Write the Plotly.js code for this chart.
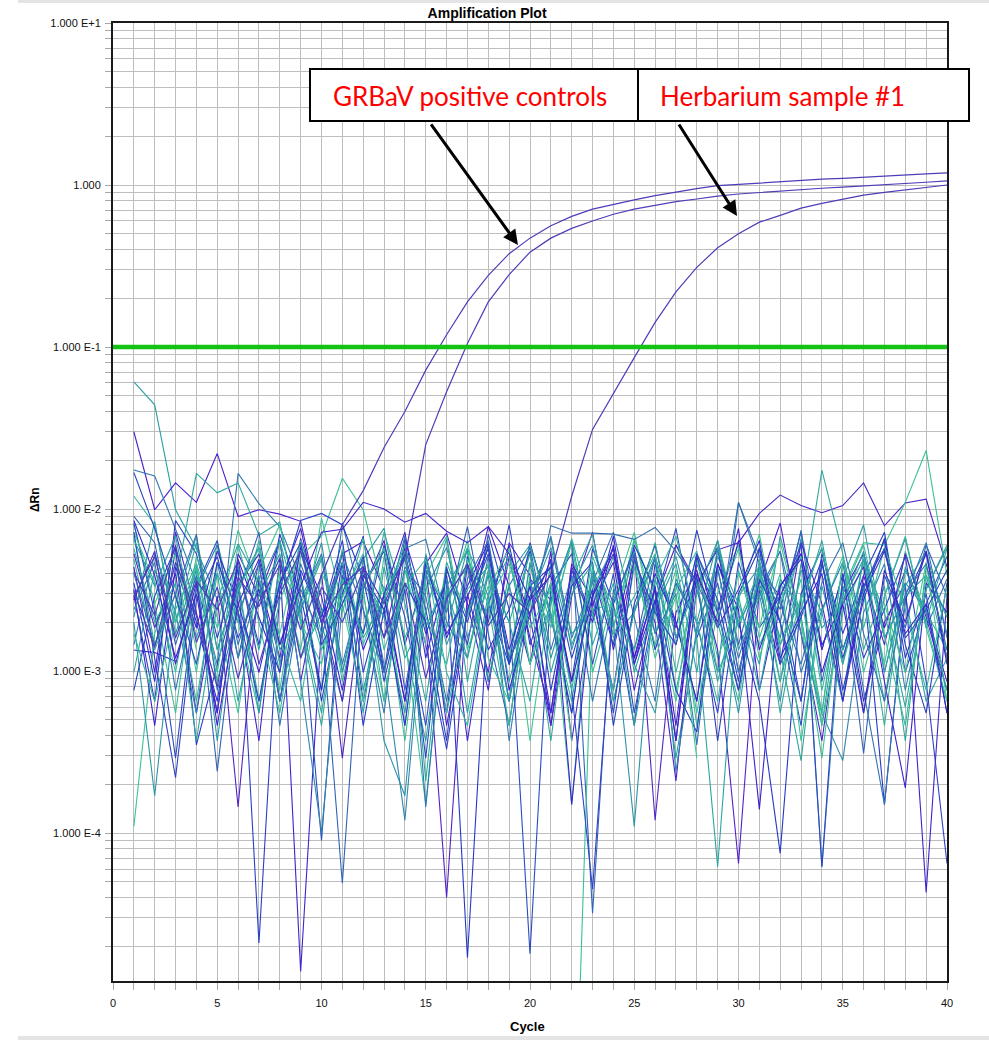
<!DOCTYPE html>
<html>
<head>
<meta charset="utf-8">
<script src="https://cdn.plot.ly/plotly-3.0.1.min.js"></script>
<style>html,body{margin:0;padding:0;background:#fff;}#chart{width:989px;height:1040px;}</style>
</head>
<body>
<div id="chart"></div>
<script>
// ---- data ----
const cycles = [1,2,3,4,5,6,7,8,9,10,11,12,13,14,15,16,17,18,19,20,21,22,23,24,25,26,27,28,29,30,31,32,33,34,35,36,37,38,39,40];
const thresholdValue = 0.1;
const thresholdCycles = [0, 40];

// amplification curves (ΔRn per cycle)
const grbavPos1 = [4.1e-3,2.2e-3,6.0e-3,1.5e-3,3.3e-3,0.9e-3,2.7e-3,4.5e-3,1.8e-3,3.9e-3, 8.0e-3,0.013,0.024,0.040,0.072,0.119,0.19,0.277,0.377,0.47, 0.56,0.64,0.71,0.76,0.81,0.86,0.905,0.95,0.99,1.01, 1.03,1.05,1.07,1.087,1.10,1.12,1.14,1.15,1.17,1.19];
const grbavPos2 = [2.9e-3,5.1e-3,1.6e-3,3.6e-3,2.4e-3,4.8e-3,1.1e-3,3.0e-3,5.5e-3,2.0e-3, 3.4e-3,4.4e-3,2.6e-3,5.0e-3,0.025,0.053,0.105,0.19,0.28,0.385, 0.47,0.54,0.60,0.66,0.71,0.75,0.79,0.82,0.855,0.88, 0.90,0.917,0.94,0.955,0.97,0.985,1.0,1.02,1.04,1.06];
const herbarium1 = [3.1e-3,1.4e-3,4.7e-3,2.2e-3,0.8e-3,3.8e-3,2.5e-3,5.0e-3,1.2e-3,3.3e-3, 2.0e-3,4.2e-3,1.6e-3,3.5e-3,0.9e-3,2.8e-3,4.6e-3,1.9e-3,3.0e-3,2.3e-3, 0.004,0.012,0.031,0.052,0.086,0.142,0.219,0.31,0.41,0.50, 0.59,0.65,0.72,0.77,0.82,0.867,0.90,0.93,0.965,1.0];

// background (non-amplifying) wells
const n01 = [61e-3,44e-3,9.9e-3,5.7e-3,2.75e-3,6.1e-3,3.5e-3,0.98e-3,6.0e-3,2.0e-3, 0.65e-3,4.9e-3,7.6e-3,1.45e-3,0.37e-3,3.35e-3,5.5e-3,0.86e-3,4.0e-3,6.0e-3, 2.3e-3,0.55e-3,4.4e-3,1.85e-3,6.4e-3,3.0e-3,0.29e-3,1.7e-3,5.1e-3,2.6e-3, 1.1e-3,6.8e-3,2.15e-3,0.46e-3,3.7e-3,8.0e-3,1.6e-3,2.9e-3,0.65e-3,1.2e-3];
const n02 = [30e-3,9.9e-3,14.5e-3,11e-3,22e-3,9.0e-3,9.9e-3,9.3e-3,8.4e-3,2.15e-3, 5.3e-3,6.3e-3,3.2e-3,0.65e-3,4.6e-3,7.1e-3,2.6e-3,0.76e-3,6.2e-3,3.9e-3, 0.46e-3,2.9e-3,7.2e-3,1.35e-3,4.9e-3,2.0e-3,0.21e-3,3.35e-3,5.8e-3,0.98e-3, 3.5e-3,8.2e-3,1.7e-3,0.37e-3,3.0e-3,5.3e-3,1.85e-3,4.2e-3,2.3e-3,0.86e-3];
const n03 = [17.4e-3,16e-3,7.5e-3,3.5e-3,1.1e-3,16.6e-3,10.8e-3,7.8e-3,3.7e-3,0.76e-3, 8.2e-3,2.4e-3,0.55e-3,5.7e-3,6.5e-3,2.0e-3,1.2e-3,5.1e-3,0.37e-3,2.75e-3, 6.8e-3,1.6e-3,3.5e-3,7.2e-3,2.15e-3,0.65e-3,6.0e-3,3.2e-3,0.98e-3,11e-3, 4.6e-3,2.0e-3,7.4e-3,1.35e-3,4.0e-3,0.55e-3,2.9e-3,6.6e-3,1.85e-3,3.7e-3];
const n04 = [4.4e-3,0.98e-3,7.2e-3,2.3e-3,0.55e-3,5.3e-3,2.9e-3,6.4e-3,0.86e-3,4.0e-3, 0.29e-3,3.2e-3,6.4e-3,1.45e-3,4.2e-3,0.46e-3,2.3e-3,7.8e-3,3.35e-3,1.1e-3, 5.5e-3,0.37e-3,2.6e-3,4.7e-3,0.76e-3,2.75e-3,6.0e-3,3.5e-3,5.6e-3,6.2e-3, 9.4e-3,12.2e-3,10.5e-3,9.5e-3,10.5e-3,14.5e-3,7.9e-3,10.9e-3,11.5e-3,4.4e-3];
const n05 = [8.0e-3,2.6e-3,0.55e-3,4.6e-3,1.85e-3,7.4e-3,3.2e-3,0.76e-3,5.1e-3,6.8e-3, 15.5e-3,9.9e-3,3.0e-3,0.37e-3,3.9e-3,6.8e-3,1.35e-3,3.35e-3,0.65e-3,4.7e-3, 2.0e-3,6.2e-3,0.98e-3,2.9e-3,7.2e-3,1.7e-3,4.2e-3,0.46e-3,2.4e-3,5.7e-3, 1.2e-3,3.5e-3,2.0e-3,0.29e-3,3.2e-3,6.2e-3,6.0e-3,11e-3,23e-3,3.9e-3];
const n06 = [6.8e-3,1.45e-3,3.5e-3,16.6e-3,12.6e-3,14.5e-3,6.9e-3,8.3e-3,2.0e-3,0.46e-3, 4.2e-3,1.7e-3,7.2e-3,2.6e-3,0.65e-3,4.7e-3,2.15e-3,6.0e-3,1.1e-3,2.9e-3, 0.37e-3,3.7e-3,7.0e-3,1.6e-3,2.3e-3,4.9e-3,0.76e-3,3.0e-3,6.4e-3,1.85e-3, 4.0e-3,0.55e-3,2.75e-3,17.4e-3,5.3e-3,1.35e-3,3.35e-3,0.37e-3,4.4e-3,2.15e-3];
const n07 = [2.9e-3,0.65e-3,8.5e-3,5.3e-3,1.6e-3,4.4e-3,2.1e-5,3.2e-3,8.5e-3,9.4e-3, 8.0e-3,3.7e-3,0.98e-3,6.6e-3,2.4e-3,0.55e-3,5.1e-3,2.0e-3,8.0e-3,1.45e-3, 3.5e-3,0.86e-3,5.7e-3,2.6e-3,0.46e-3,4.6e-3,1.85e-3,7.4e-3,2.3e-3,0.76e-3, 4.2e-3,2.9e-3,0.65e-3,5.3e-3,1.7e-3,3.9e-3,7.2e-3,1.2e-3,3.0e-3,0.55e-3];
const n08 = [1.35e-3,1.3e-3,1.15e-3,null,null,2.3e-3,0.37e-3,4.9e-3,1.4e-5,1.85e-3, 5.5e-3,0.65e-3,3.0e-3,7.2e-3,1.2e-3,3.9e-3,0.37e-3,2.6e-3,6.0e-3,1.6e-3, 0.55e-3,4.4e-3,2.15e-3,6.8e-3,1.1e-3,3.35e-3,0.46e-3,4.6e-3,2.3e-3,7.6e-3, 0.76e-3,2.9e-3,5.3e-3,1.35e-3,4.0e-3,0.65e-3,2.0e-3,3.5e-3,4.3e-5,2.9e-3];
const n09 = [1.1e-4,1.7e-3,4.6e-3,0.98e-3,6.2e-3,2.0e-3,0.55e-3,4.0e-3,1.35e-3,8.8e-3, 2.6e-3,0.65e-3,5.1e-3,1.6e-3,1.5e-4,2.9e-3,5.8e-3,0.86e-3,3.5e-3,0.37e-3, 3.0e-3,1.5e-4,4.2e-3,1.85e-3,6.6e-3,2.4e-3,0.65e-3,4.9e-3,1.2e-3,2.75e-3, 7.0e-3,1.45e-3,3.7e-3,0.46e-3,2.3e-3,4.6e-3,1.1e-3,5.5e-3,2.0e-3,0.65e-3];
const n10 = [8.2e-3,2.3e-3,2.9e-4,3.35e-3,6.4e-3,1.2e-3,4.7e-3,0.65e-3,2.75e-3,9.0e-5, 3.9e-3,1.7e-3,6.0e-3,2.15e-3,0.46e-3,4.4e-3,1.45e-3,7.0e-3,2.4e-3,1.8e-5, 3.35e-3,5.3e-3,1.1e-3,4.0e-3,0.55e-3,2.6e-3,7.6e-3,1.6e-3,3.5e-3,0.86e-3, 5.8e-3,2.0e-3,0.46e-3,4.7e-3,1.35e-3,3.2e-3,6.4e-3,0.98e-3,2.6e-3,5.1e-3];
const n11 = [9.0e-3,6.2e-3,1.45e-3,3.9e-3,2.4e-4,3.0e-3,7.2e-3,1.1e-3,4.6e-3,2.0e-3, 4.9e-5,3.35e-3,5.5e-3,0.76e-3,4.2e-3,2.3e-3,7.8e-3,1.7e-3,0.46e-3,3.7e-3, 2.75e-3,6.4e-3,3.2e-5,3.2e-3,1.35e-3,5.1e-3,2.0e-3,0.65e-3,5.7e-3,1.45e-3, 4.4e-3,2.4e-3,7.2e-3,0.86e-3,3.35e-3,3.1e-4,3.9e-3,1.85e-3,6.0e-3,2.9e-3];
const n12 = [2.0e-3,1.7e-4,2.6e-3,6.8e-3,1.35e-3,3.5e-3,0.55e-3,4.7e-3,2.3e-3,6.2e-3, 0.98e-3,3.2e-3,0.37e-3,1.7e-4,4.0e-3,1.85e-3,5.7e-3,2.9e-3,0.65e-3,4.6e-3, 1.2e-3,3.35e-3,6.0e-3,2.0e-3,1.1e-4,3.7e-3,1.45e-3,5.3e-3,2.4e-3,0.55e-3, 4.2e-3,1.6e-3,6.6e-3,6.2e-5,2.75e-3,4.9e-3,0.98e-3,3.35e-3,5.5e-3,1.7e-3];
const n13 = [5.3e-3,1.85e-3,4.0e-3,0.55e-3,2.9e-3,1.45e-4,3.7e-3,1.2e-3,6.6e-3,2.4e-3, 0.65e-3,4.4e-3,1.6e-3,5.8e-3,2.0e-3,4.0e-5,3.0e-3,0.98e-3,5.1e-3,2.15e-3, 0.46e-3,4.6e-3,2.75e-3,0.76e-3,5.5e-3,1.2e-4,2.3e-3,4.2e-3,1.35e-3,6.5e-5, 3.2e-3,1.1e-3,6.2e-3,2.6e-3,0.65e-3,3.9e-3,1.45e-3,5.3e-3,2.15e-3,0.76e-3];
const n14 = [3.5e-3,0.86e-3,5.7e-3,2.0e-3,0.65e-3,4.4e-3,1.45e-3,7.0e-3,2.9e-3,0.76e-3, 4.7e-3,0.46e-3,2.4e-3,5.3e-3,1.7e-3,3.7e-3,1.7e-5,2.6e-3,1.1e-3,6.2e-3, 2.15e-3,0.55e-3,4.0e-3,1.45e-3,6.0e-3,3.2e-3,0.76e-3,4.2e-4,4.6e-3,2.0e-3, 0.65e-3,7.5e-5,3.0e-3,5.7e-3,1.35e-3,3.5e-3,1.5e-4,2.75e-3,5.3e-3,1.2e-3];
const n15 = [7.2e-3,3.5e-3,0.98e-3,5.1e-3,2.15e-3,0.55e-3,4.2e-3,8.0e-3,2.0e-3,1.1e-3, 5.7e-3,1.45e-3,3.35e-3,0.46e-3,4.4e-3,2.4e-3,6.4e-3,1.2e-3,0.65e-3,3.9e-3, null,3e-7,2.4e-3,2.6e-3,5.5e-3,1.35e-3,3.5e-3,0.55e-3,3.0e-3,6.0e-3, 1.6e-3,4.0e-3,0.37e-3,2.3e-3,5.1e-3,0.98e-3,2.9e-3,6.8e-3,1.85e-3,0.65e-3];
const n16 = [1.45e-3,5.3e-3,2.3e-3,0.55e-3,4.7e-3,1.2e-3,3.35e-3,6.4e-3,0.86e-3,1.0e-4, 2.6e-3,4.9e-3,1.1e-3,1.2e-4,3.2e-3,5.8e-3,1.6e-3,3.9e-3,0.65e-3,2.75e-3, 6.6e-3,1.35e-3,3.7e-3,0.65e-3,2.4e-3,5.1e-3,2.4e-4,1.85e-3,4.4e-3,0.98e-3, 2.9e-3,5.5e-3,1.7e-3,0.55e-3,2.8e-4,2.3e-3,4.6e-3,0.76e-3,3.2e-3,5.8e-3];
const n17 = [0.98e-3,4.2e-3,2.0e-3,6.2e-3,1.35e-3,3.5e-3,0.65e-3,2.75e-3,5.5e-3,1.7e-3, 3.35e-3,0.55e-3,4.4e-3,1.2e-3,2.3e-3,6.6e-3,0.86e-3,4.0e-3,2.0e-3,0.65e-3, 4.7e-3,1.45e-3,3.2e-3,5.8e-3,0.98e-3,2.6e-3,5.1e-3,1.6e-3,6.2e-5,2.9e-3, 0.76e-3,3.7e-3,2.4e-3,6.4e-3,1.35e-3,3.0e-3,0.65e-3,4.4e-3,2.0e-3,5.7e-3];
const n18 = [4.9e-3,1.35e-3,3.0e-3,0.65e-3,4.0e-3,2.0e-3,6.4e-3,1.1e-3,2.6e-3,5.1e-3, 0.86e-3,3.35e-3,5.7e-3,1.6e-3,3.5e-3,0.55e-3,2.3e-3,4.6e-3,1.2e-3,6.0e-3, 2.15e-3,0.65e-3,4.0e-3,1.7e-3,2.9e-3,5.3e-3,0.98e-3,3.7e-3,2.0e-3,0.65e-3, 4.9e-3,1.45e-3,2.75e-3,5.8e-3,1.1e-3,3.35e-3,0.46e-3,4.2e-3,2.3e-3,1.35e-3];
const n19 = [7.2e-3,1.2e-3,2.2e-4,2.75e-3,5.1e-3,1.6e-3,3.2e-3,0.65e-3,4.2e-3,2.15e-3, 6.4e-3,0.98e-3,3.0e-3,4.9e-3,1.45e-3,0.33e-3,2.4e-3,5.3e-3,1.1e-3,3.35e-3, 4.4e-3,0.76e-3,4.5e-5,2.6e-3,5.7e-3,1.35e-3,3.5e-3,2.0e-3,0.55e-3,4.7e-3, 1.85e-3,2.9e-3,6.0e-3,6.2e-5,3.9e-3,1.2e-3,2.4e-3,5.1e-3,0.86e-3,6.5e-5];
const n20 = [2.4e-3,4.7e-3,0.76e-3,3.2e-3,6.0e-3,1.45e-3,3.9e-3,0.46e-3,2.75e-3,5.3e-3, 1.1e-3,3.5e-3,2.15e-3,6.8e-3,1.45e-4,2.9e-3,4.4e-3,0.86e-3,3.35e-3,5.8e-3, 1.35e-3,3.9e-3,0.65e-3,2.75e-3,5.3e-3,1.7e-3,3.0e-3,3.5e-4,4.2e-3,1.2e-3, 3.2e-3,5.5e-3,0.98e-3,2.4e-3,4.7e-3,0.76e-3,1.5e-4,2.9e-3,6.2e-3,1.6e-3];
const n21 = [3.2e-3,0.46e-3,4.4e-3,1.85e-3,5.5e-3,2.6e-3,0.98e-3,3.5e-3,7.6e-3,2.0e-3, 4.6e-3,1.35e-3,2.9e-3,0.65e-3,5.1e-3,1.6e-3,3.35e-3,6.2e-3,0.76e-3,2.3e-3, 4.9e-3,1.5e-4,3.0e-3,5.7e-3,1.2e-3,4.0e-3,2.0e-3,0.65e-3,4.6e-3,2.4e-3, 1.4e-4,3.35e-3,5.3e-3,1.45e-3,2.6e-3,4.4e-3,0.86e-3,1.9e-4,3.5e-3,2.3e-3];
const n22 = [6.5e-3,3.35e-3,6.8e-3,1.6e-3,4.0e-3,0.65e-3,2.9e-3,5.3e-3,1.2e-3,2.3e-3, 4.7e-3,0.76e-3,2.75e-3,6.0e-3,1.85e-3,3.7e-3,0.55e-3,3.0e-3,5.1e-3,1.1e-3, 2.6e-3,6.4e-3,1.45e-3,3.5e-3,0.46e-3,2.4e-3,4.6e-3,0.98e-3,5.8e-3,2.0e-3, 3.35e-3,0.86e-3,4.2e-3,2.3e-3,0.65e-3,5.3e-3,1.6e-3,2.9e-3,3.9e-3,1.2e-3];
const n23 = [null,2.6e-3,5.3e-3,1.35e-3,null,null,3.7e-3,1.7e-3,6.4e-3,2.3e-3, null,3.0e-3,0.65e-3,4.2e-3,1.45e-3,null,null,3.2e-3,5.7e-3,1.1e-3, 3.5e-3,0.37e-3,null,2.15e-3,4.9e-3,1.2e-3,2.9e-3,0.29e-3,null,4.0e-3, 1.85e-3,6.2e-3,2.0e-3,0.55e-3,4.6e-3,null,2.6e-3,0.98e-3,4.7e-3,0.65e-3];
const n24 = [0.76e-3,2.9e-3,5.8e-3,3.5e-4,1.1e-3,3.35e-3,5.3e-3,1.45e-3,4.0e-3,0.65e-3, 3.0e-3,6.8e-3,0.98e-3,3.5e-3,2.0e-3,0.37e-3,4.6e-3,1.35e-3,2.4e-3,5.5e-3, 0.76e-3,3.35e-3,4.7e-3,0.46e-3,2.6e-3,6.0e-3,1.6e-3,3.9e-3,0.37e-3,3.0e-3, 5.7e-3,1.1e-3,2.15e-3,4.9e-3,0.76e-3,2.75e-3,6.6e-3,1.45e-3,0.55e-3,3.5e-3];
const n25 = [2.15e-3,8.4e-3,1.7e-3,4.2e-3,0.37e-3,3.35e-3,5.8e-3,1.35e-3,2.4e-3,4.9e-3, 0.98e-3,4.0e-3,2.15e-3,0.55e-3,5.3e-3,1.45e-3,3.2e-3,4.4e-3,0.86e-3,2.75e-3, 5.8e-3,1.7e-3,2.3e-3,5.1e-3,1.1e-3,0.55e-3,3.7e-3,2.0e-3,6.4e-3,1.35e-3, 3.0e-3,0.65e-3,4.6e-3,1.85e-3,2.6e-3,5.5e-3,0.98e-3,3.5e-3,2.4e-3,0.76e-3];
const n26 = [1.7e-3,0.65e-3,2.4e-3,4.6e-3,0.98e-3,6.0e-3,2.0e-3,0.55e-3,3.7e-3,1.35e-3, 2.9e-3,5.3e-3,0.65e-3,4.2e-3,2.15e-3,1.1e-3,4.9e-3,2.6e-3,0.46e-3,3.5e-3, 1.85e-3,6.6e-3,2.3e-3,0.76e-3,4.4e-3,1.45e-3,3.2e-3,5.5e-3,0.98e-3,2.0e-3, 4.2e-3,0.86e-3,2.9e-3,0.55e-3,4.7e-3,1.85e-3,5.8e-3,2.4e-3,0.76e-3,3.35e-3];
const n27 = [5.7e-3,2.0e-3,3.5e-3,0.37e-3,2.6e-3,4.4e-3,1.35e-3,6.4e-3,2.15e-3,0.55e-3, 3.7e-3,1.6e-3,2.75e-3,5.5e-3,2.1e-4,3.2e-3,1.2e-3,4.2e-3,2.0e-3,5.3e-3, 0.98e-3,3.0e-3,4.6e-3,0.65e-3,2.3e-3,6.2e-3,1.6e-3,3.5e-3,0.86e-3,2.9e-3, 4.4e-3,1.35e-3,2.8e-4,3.35e-3,1.1e-3,4.9e-3,2.3e-3,0.6e-3,3.2e-3,6.0e-3];
const n28 = [8.5e-3,3.9e-3,1.2e-3,3.0e-3,0.55e-3,4.9e-3,2.15e-3,0.98e-3,5.8e-3,2.9e-3, 0.76e-3,3.9e-3,2.4e-3,0.46e-3,4.6e-3,1.7e-3,2.9e-3,5.7e-3,1.35e-3,3.35e-3, 0.55e-3,4.2e-3,2.0e-3,6.0e-3,1.1e-3,2.75e-3,0.37e-3,5.1e-3,1.85e-3,3.2e-3, 6.4e-3,1.2e-3,2.3e-3,4.0e-3,0.65e-3,3.0e-3,5.5e-3,1.7e-3,2.6e-3,0.55e-3];
const n29 = [12e-3,8.0e-3,2.0e-3,4.4e-3,0.86e-3,3.2e-3,5.7e-3,1.6e-3,0.65e-3,4.0e-3, 2.3e-3,6.6e-3,1.35e-3,3.35e-3,4.9e-3,0.98e-3,0.46e-3,2.75e-3,4.6e-3,1.85e-3, 3.2e-3,0.76e-3,5.1e-3,2.4e-3,1.35e-3,3.7e-3,6.8e-3,2.0e-3,0.65e-3,4.2e-3, 1.45e-3,2.75e-3,5.1e-3,0.76e-3,3.0e-3,6.0e-3,1.7e-3,0.46e-3,3.9e-3,2.15e-3];
const n30 = [16.8e-3,7.6e-3,2.9e-3,1.1e-3,4.7e-3,2.3e-3,0.65e-3,3.5e-3,6.2e-3,1.45e-3, 2.6e-3,5.1e-3,0.86e-3,3.2e-3,0.29e-3,4.2e-3,2.0e-3,6.0e-3,1.1e-3,2.9e-3, 4.4e-3,1.2e-3,3.2e-3,0.55e-3,4.9e-3,2.3e-3,1.45e-3,5.3e-3,2.75e-3,0.76e-3, 3.7e-3,2.0e-3,0.65e-3,4.6e-3,1.2e-3,3.35e-3,5.7e-3,1.6e-3,2.4e-3,4.2e-3];
const n31 = [2.75e-3,5.5e-3,1.1e-3,3.5e-3,0.46e-3,2.6e-3,4.9e-3,1.45e-3,3.35e-3,7.2e-3, 7.5e-3,11e-3,10e-3,8.3e-3,9.4e-3,7.3e-3,6.2e-3,7.8e-3,5.3e-3,2.75e-3, 3.9e-3,0.86e-3,2.9e-3,5.3e-3,1.2e-3,3.2e-3,0.37e-3,4.0e-3,2.0e-3,6.4e-3, 1.35e-3,3.35e-3,4.9e-3,0.98e-3,2.6e-3,0.55e-3,4.2e-3,2.0e-3,5.5e-3,1.1e-3];
const n32 = [4.0e-3,1.45e-3,3.0e-3,7.0e-3,0.76e-3,2.3e-3,4.6e-3,0.65e-3,3.2e-3,1.6e-3, 5.3e-3,2.4e-3,0.98e-3,4.4e-3,2.9e-3,0.65e-3,3.7e-3,6.4e-3,1.2e-3,2.15e-3, 7.9e-3,7.1e-3,7.1e-3,7.0e-3,6.5e-3,7.7e-3,5.5e-3,3.5e-3,1.85e-3,11e-3, 5.1e-3,2.6e-3,1.1e-3,3.5e-3,6.2e-3,1.7e-3,0.65e-3,3.0e-3,4.6e-3,1.35e-3];

const noiseSeries = [n01,n02,n03,n04,n05,n06,n07,n08,n09,n10,n11,n12,n13,n14,n15,n16,n17,n18,n19,n20,n21,n22,n23,n24,n25,n26,n27,n28,n29,n30,n31,n32];
const noiseColors = ['#2a9ea4','#4a1fcc','#3178b2','#4b24c6','#3bbf94','#2fa89c','#2a3ec6','#3d24cc','#3cc496','#2b4cc0','#2f62b8','#2c94a8','#5222c8','#2437c8','#38c29a','#2f86ae','#2aa5a0','#33b29a','#2f42c8','#3074b4','#3b20d0','#28a0a6','#40c890','#2a3cc0','#2d98a6','#35b69c','#2aa89e','#3628d0','#34b8a0','#2848c0','#4020c8','#3570b0'];

// axis ticks
const xTickVals = [0,1,2,3,4,5,6,7,8,9,10,11,12,13,14,15,16,17,18,19,20,21,22,23,24,25,26,27,28,29,30,31,32,33,34,35,36,37,38,39,40];
const xTickText = ['0','','','','','5','','','','','10','','','','','15','','','','','20','','','','','25','','','','','30','','','','','35','','','','','40'];
const yTickVals = [2e-5,3e-5,4e-5,5e-5,6e-5,7e-5,8e-5,9e-5,1e-4,2e-4,3e-4,4e-4,5e-4,6e-4,7e-4,8e-4,9e-4,1e-3,2e-3,3e-3,4e-3,5e-3,6e-3,7e-3,8e-3,9e-3,1e-2,2e-2,3e-2,4e-2,5e-2,6e-2,7e-2,8e-2,9e-2,0.1,0.2,0.3,0.4,0.5,0.6,0.7,0.8,0.9,1,2,3,4,5,6,7,8,9,10];
const yTickText = ['','','','','','','','','1.000 E-4','','','','','','','','','1.000 E-3','','','','','','','','','1.000 E-2','','','','','','','','','1.000 E-1','','','','','','','','','1.000','','','','','','','','','1.000 E+1'];

// ---- traces ----
const traces = [];
noiseSeries.forEach((s, i) => {
  traces.push({x: cycles, y: s, type: 'scatter', mode: 'lines', connectgaps: false,
    line: {color: noiseColors[i], width: 1.1}, hoverinfo: 'skip'});
});
[grbavPos1, grbavPos2, herbarium1].forEach(s => {
  traces.push({x: cycles, y: s, type: 'scatter', mode: 'lines',
    line: {color: '#4c3eb8', width: 1.2}, hoverinfo: 'skip'});
});
traces.push({x: thresholdCycles, y: [thresholdValue, thresholdValue], type: 'scatter', mode: 'lines',
  line: {color: '#14c414', width: 4.5}, hoverinfo: 'skip'});

const axisFont = {family: 'Liberation Sans, Arial, sans-serif', size: 11, color: '#111'};

const layout = {
  width: 989, height: 1040,
  margin: {l: 113, r: 42, t: 23, b: 59, pad: 0},
  paper_bgcolor: '#ffffff', plot_bgcolor: '#ffffff',
  showlegend: false,
  hovermode: false,
  title: {text: '<b>Amplification Plot</b>', font: {family: 'Liberation Sans, Arial, sans-serif', size: 14, color: '#000'},
    x: 0.4925, xanchor: 'center', xref: 'container', y: 0.9875, yanchor: 'middle', yref: 'container'},
  xaxis: {
    range: [0, 40], tickmode: 'array', tickvals: xTickVals, ticktext: xTickText,
    ticks: 'outside', ticklen: 7, tickwidth: 1, tickcolor: '#a8a8a8',
    showgrid: true, gridcolor: '#bdbdbd', gridwidth: 1, zeroline: false,
    showline: true, linecolor: '#1a1a1a', linewidth: 2, mirror: true,
    tickfont: axisFont, ticklabelstandoff: 4
  },
  yaxis: {
    type: 'log', range: [-4.913, 1], tickmode: 'array', tickvals: yTickVals, ticktext: yTickText,
    ticks: 'outside', ticklen: 6, tickwidth: 1, tickcolor: '#a8a8a8',
    showgrid: true, gridcolor: '#bdbdbd', gridwidth: 1, zeroline: false,
    showline: true, linecolor: '#1a1a1a', linewidth: 2, mirror: true,
    tickfont: axisFont, ticklabelstandoff: 2
  },
  shapes: [
    {type: 'rect', xref: 'paper', yref: 'paper', x0: 0.2362, x1: 0.6295, y0: 0.8977, y1: 0.952,
      line: {color: '#000', width: 2}, fillcolor: '#ffffff', layer: 'above'},
    {type: 'rect', xref: 'paper', yref: 'paper', x0: 0.6295, x1: 1.0264, y0: 0.8977, y1: 0.952,
      line: {color: '#000', width: 2}, fillcolor: '#ffffff', layer: 'above'},
    {type: 'line', xref: 'paper', yref: 'paper', x0: -0.114, x1: 1.06, y0: 1.0225, y1: 1.0225,
      line: {color: '#e4e4e4', width: 3}},
    {type: 'line', xref: 'paper', yref: 'paper', x0: -0.114, x1: 1.06, y0: -0.0595, y1: -0.0595,
      line: {color: '#e4e4e4', width: 4}}
  ],
  annotations: [
    {text: 'GRBaV positive controls', xref: 'paper', yref: 'paper', x: 0.2614, y: 0.9238,
      xanchor: 'left', yanchor: 'middle', showarrow: false,
      font: {family: 'Lato, Carlito, sans-serif', size: 26, color: '#ff0000'}},
    {text: 'Herbarium sample #1', xref: 'paper', yref: 'paper', x: 0.6535, y: 0.9238,
      xanchor: 'left', yanchor: 'middle', showarrow: false,
      font: {family: 'Lato, Carlito, sans-serif', size: 26, color: '#ff0000'}},
    {text: '', xref: 'paper', yref: 'paper', x: 0.4856, y: 0.7683, ax: -88, ay: -122,
      showarrow: true, arrowhead: 2, arrowsize: 1, arrowwidth: 3, arrowcolor: '#000', standoff: 0},
    {text: '', xref: 'paper', yref: 'paper', x: 0.7482, y: 0.7985, ax: -59, ay: -93,
      showarrow: true, arrowhead: 2, arrowsize: 1, arrowwidth: 3, arrowcolor: '#000', standoff: 0},
    {text: '<b>ΔRn</b>', xref: 'paper', yref: 'paper', x: -0.0935, y: 0.502, textangle: -90,
      xanchor: 'center', yanchor: 'middle', showarrow: false,
      font: {family: 'Liberation Sans, Arial, sans-serif', size: 12, color: '#000'}},
    {text: '<b>Cycle</b>', xref: 'paper', yref: 'paper', x: 0.4976, y: -0.048,
      xanchor: 'center', yanchor: 'middle', showarrow: false,
      font: {family: 'Liberation Sans, Arial, sans-serif', size: 13, color: '#000'}}
  ]
};

Plotly.newPlot('chart', traces, layout, {staticPlot: true, displayModeBar: false});
</script>
</body>
</html>
